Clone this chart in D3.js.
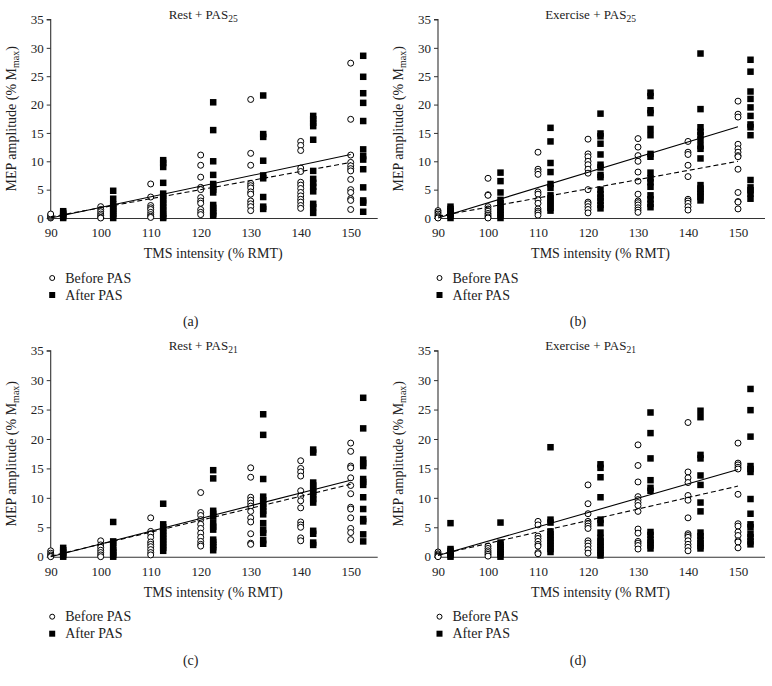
<!DOCTYPE html>
<html>
<head>
<meta charset="utf-8">
<script src="https://cdn.jsdelivr.net/npm/d3@7"></script>
<style>
  html, body { margin: 0; padding: 0; background: #fff; }
  svg text { font-family: "Liberation Serif", "DejaVu Serif", serif; fill: #222; }
</style>
</head>
<body>
<svg id="chart" width="772" height="686"></svg>
<script>
// ---------------- DATA ----------------
const levels = [90, 100, 110, 120, 130, 140, 150];
const xTicks = [90, 100, 110, 120, 130, 140, 150];
const yTicks = [0, 5, 10, 15, 20, 25, 30, 35];
const afterOffset = 2.5; // "After PAS" squares are shown 2.5 % RMT to the right

const panelTitles = ["Rest + PAS", "Exercise + PAS", "Rest + PAS", "Exercise + PAS"];
const panelSubs = ["25", "25", "21", "21"];
const panelLetters = ["(a)", "(b)", "(c)", "(d)"];

// (a) Rest + PAS25
const beforeA = [
  [0, 0.1, 0.3, 0.5, 0.7],
  [2.0, 1.5, 1.1, 0.7, 0.4, 0.1, 0],
  [6.0, 3.7, 2.2, 1.8, 1.5, 1.0, 0.6, 0.3, 0.1],
  [11.1, 9.3, 7.2, 5.4, 5.0, 3.6, 3.0, 2.6, 1.5, 1.0, 0.6],
  [20.9, 11.4, 9.3, 6.1, 5.7, 5.3, 4.6, 4.2, 3.0, 2.5, 2.0, 1.3],
  [13.5, 12.8, 11.9, 8.8, 8.2, 6.3, 5.8, 5.2, 4.5, 3.9, 3.3, 2.8, 2.2, 1.7],
  [27.3, 17.4, 11.1, 9.8, 9.2, 8.7, 8.3, 6.8, 5.0, 4.5, 3.4, 3.1, 1.5]
];
const afterA = [
  [1.2, 0.9, 0.6, 0.3, 0],
  [4.8, 3.4, 2.4, 2.0, 1.6, 1.2, 0.8, 0.4, 0],
  [10.2, 9.7, 9.0, 6.2, 4.3, 3.8, 3.2, 2.6, 2.0, 1.4, 0.8, 0.3, 0],
  [20.4, 15.5, 10.0, 7.6, 6.0, 5.5, 5.0, 4.5, 2.3, 1.8, 1.2, 0.8, 0.4],
  [21.6, 14.8, 14.3, 10.1, 7.5, 7.0, 3.7, 2.0, 1.6],
  [18.0, 17.4, 16.8, 16.2, 13.8, 8.3, 6.9, 6.2, 5.5, 4.7, 2.5, 1.9, 0.9],
  [28.6, 24.9, 22.0, 20.3, 17.1, 12.1, 10.9, 10.3, 8.6, 5.4, 3.1, 2.7, 1.1]
];
const trendAfterA = [0.0, 11.2];
const trendBeforeA = [0.2, 9.8];

// (b) Exercise + PAS25
const beforeB = [
  [1.3, 1.0, 0.7, 0.4, 0.2, 0],
  [7.0, 4.1, 4.0, 2.0, 1.6, 1.2, 0.8, 0.5, 0.2, 0],
  [11.6, 8.6, 8.2, 7.7, 4.6, 4.2, 3.2, 2.6, 1.6, 1.2, 0.9, 0.5],
  [13.9, 11.3, 10.8, 10.0, 9.4, 8.6, 7.9, 5.0, 2.8, 2.5, 2.0, 1.5, 0.9],
  [14.0, 12.5, 11.0, 10.0, 8.1, 6.5, 4.2, 3.0, 2.7, 2.3, 1.8, 1.4, 1.0],
  [13.5, 11.6, 11.2, 9.3, 7.3, 3.3, 3.0, 2.6, 2.0, 1.4],
  [20.6, 18.3, 17.8, 13.0, 12.2, 11.6, 11.0, 10.8, 8.6, 4.5, 2.9, 2.8, 1.6]
];
const afterB = [
  [2.0, 1.6, 1.2, 0.8, 0.4, 0],
  [8.0, 6.5, 4.5, 3.2, 2.6, 2.0, 1.5, 1.0, 0.5, 0],
  [15.9, 13.5, 9.7, 8.1, 6.0, 5.3, 4.0, 3.5, 2.9, 2.4, 1.8, 1.3],
  [18.4, 14.9, 14.4, 13.1, 11.2, 9.4, 8.9, 7.6, 7.2, 5.0, 4.2, 3.6, 3.0, 2.3, 1.7],
  [22.1, 21.5, 19.0, 18.5, 15.7, 14.6, 11.3, 10.8, 8.0, 7.0, 6.3, 5.5, 4.0, 3.3, 2.5, 1.9],
  [29.0, 19.2, 16.0, 15.2, 14.6, 13.8, 12.7, 12.2, 10.5, 5.8, 5.2, 4.7, 4.2, 3.7, 3.1],
  [27.9, 25.8, 22.3, 21.0, 19.5, 18.0, 16.5, 16.0, 14.6, 6.7, 5.4, 4.9, 4.3, 3.4]
];
const trendAfterB = [0.0, 16.1];
const trendBeforeB = [0.3, 10.0];

// (c) Rest + PAS21
const beforeC = [
  [1.0, 0.6, 0.3, 0.1, 0],
  [2.7, 2.0, 1.6, 1.1, 0.7, 0.3, 0],
  [6.6, 4.3, 3.9, 3.3, 2.5, 2.1, 1.7, 1.2, 0.7, 0.3],
  [10.9, 7.5, 7.0, 6.3, 5.5, 4.8, 4.0, 3.3, 2.6, 2.1, 1.8],
  [15.1, 13.5, 10.1, 9.6, 9.1, 8.6, 7.7, 6.6, 5.9, 3.9, 2.3, 2.1],
  [16.3, 15.0, 14.4, 13.7, 11.2, 10.3, 9.5, 8.3, 5.9, 5.4, 5.0, 3.2, 2.7],
  [19.3, 17.9, 15.4, 15.1, 13.4, 12.1, 10.7, 8.4, 8.1, 6.6, 4.8, 4.1, 2.9]
];
const afterC = [
  [1.5, 1.1, 0.7, 0.3, 0],
  [5.9, 2.6, 2.3, 1.5, 1.1, 0.7, 0.3, 0],
  [9.0, 5.5, 5.0, 4.5, 4.0, 3.5, 3.0, 2.5, 2.0, 1.5, 1.0],
  [14.7, 13.3, 7.8, 7.3, 6.8, 5.7, 5.1, 4.6, 2.9, 2.5, 2.0, 1.6, 1.1],
  [24.2, 20.7, 13.2, 10.2, 9.6, 9.0, 8.4, 7.8, 7.2, 5.7, 4.6, 4.0, 2.8, 2.2],
  [18.2, 17.7, 12.6, 12.1, 11.5, 11.0, 10.4, 9.8, 9.2, 4.4, 3.9, 2.4, 2.0],
  [27.0, 21.8, 16.5, 15.9, 15.4, 13.2, 12.7, 12.2, 10.1, 8.1, 6.4, 6.0, 3.8, 2.6]
];
const trendAfterC = [0.0, 13.0];
const trendBeforeC = [0.1, 12.3];

// (d) Exercise + PAS21
const beforeD = [
  [0.8, 0.5, 0.3, 0.1, 0],
  [1.8, 1.4, 1.0, 0.7, 0.4, 0.1],
  [6.0, 5.4, 3.5, 3.1, 2.6, 2.1, 1.8, 0.7, 0.5],
  [12.2, 9.0, 7.3, 6.0, 5.6, 5.2, 4.8, 2.7, 2.3, 1.8, 1.2, 0.6],
  [19.0, 15.5, 12.7, 10.2, 9.7, 9.2, 8.7, 7.7, 4.7, 4.0, 2.6, 2.3, 1.9, 1.3],
  [22.8, 14.4, 13.4, 12.6, 10.4, 9.6, 6.6, 3.9, 3.6, 3.3, 2.7, 2.1, 1.6, 1.0],
  [19.3, 15.9, 15.6, 15.2, 14.9, 10.6, 5.6, 5.2, 4.2, 3.6, 2.7, 2.5, 1.5]
];
const afterD = [
  [5.7, 1.3, 1.0, 0.6, 0.3, 0],
  [5.8, 2.4, 2.0, 1.6, 1.2, 0.8, 0.4, 0],
  [18.6, 6.3, 5.8, 4.3, 3.8, 3.3, 2.8, 2.3, 1.8, 1.3, 0.8],
  [15.7, 15.1, 13.5, 10.1, 6.3, 5.7, 4.1, 3.2, 2.6, 2.1, 1.6, 1.1, 0.6, 0.2],
  [24.5, 21.0, 16.7, 13.0, 11.7, 11.2, 4.2, 3.7, 2.9, 2.4, 1.9, 1.4],
  [24.8, 23.7, 17.3, 16.7, 13.8, 12.2, 9.2, 7.7, 4.1, 3.5, 2.9, 2.3, 1.8, 1.4],
  [28.5, 24.9, 20.4, 15.4, 14.9, 14.4, 9.8, 7.3, 5.5, 5.0, 3.9, 3.3, 2.6, 2.1]
];
const trendAfterD = [0.2, 14.8];
const trendBeforeD = [0.3, 12.0];

// ---------------- LAYOUT ----------------
const panels = [
  { before: beforeA, after: afterA, tA: trendAfterA, tB: trendBeforeA, x0: 50.7, y0: 218, y1: 19.5 },
  { before: beforeB, after: afterB, tA: trendAfterB, tB: trendBeforeB, x0: 438,  y0: 218, y1: 19.5 },
  { before: beforeC, after: afterC, tA: trendAfterC, tB: trendBeforeC, x0: 50.7, y0: 556.7, y1: 350.7 },
  { before: beforeD, after: afterD, tA: trendAfterD, tB: trendBeforeD, x0: 438,  y0: 556.7, y1: 350.7 }
];
const xDomain = [90, 155.3];
const svg = d3.select("#chart");
const ink = "#1a1a1a";

panels.forEach((p, i) => {
  const pxPerUnit = 5.0;
  const x = d3.scaleLinear().domain(xDomain).range([p.x0, p.x0 + (xDomain[1] - xDomain[0]) * pxPerUnit]);
  const y = d3.scaleLinear().domain([0, 35]).range([p.y0, p.y1]);
  const g = svg.append("g");

  // axes
  const yAxis = g.append("g").attr("transform", `translate(${p.x0},0)`)
    .call(d3.axisLeft(y).tickValues(yTicks).tickSize(4).tickPadding(3));
  const xAxis = g.append("g").attr("transform", `translate(0,${p.y0})`)
    .call(d3.axisBottom(x).tickValues(xTicks).tickSize(0).tickPadding(10));
  [yAxis, xAxis].forEach(a => {
    a.attr("font-family", null);
    a.select(".domain").attr("stroke", "#333").attr("stroke-width", 1.1);
    a.selectAll(".tick line").attr("stroke", "#333");
    a.selectAll("text").attr("font-size", 13).attr("fill", ink)
      .style("font-family", '"Liberation Serif", serif');
  });
  yAxis.select(".domain").attr("d", `M-4,${y(35)}H0V${y(0)}`);

  // points: before (open circles), after (filled squares)
  const beforePts = [], afterPts = [];
  levels.forEach((lv, k) => {
    p.before[k].forEach(v => beforePts.push([lv, v]));
    p.after[k].forEach(v => afterPts.push([lv + afterOffset, v]));
  });
  const sq = 6.5;
  g.append("g").selectAll("rect").data(afterPts).join("rect")
    .attr("x", d => x(d[0]) - sq / 2).attr("y", d => y(d[1]) - sq / 2)
    .attr("width", sq).attr("height", sq).attr("fill", "#000");
  g.append("g").selectAll("circle").data(beforePts).join("circle")
    .attr("cx", d => x(d[0])).attr("cy", d => y(d[1])).attr("r", 3)
    .attr("fill", "#fff").attr("stroke", "#000").attr("stroke-width", 1);

  // trend lines
  const line = d3.line().x(d => x(d[0])).y(d => y(d[1]));
  g.append("path").datum([[90, p.tA[0]], [150, p.tA[1]]]).attr("d", line)
    .attr("fill", "none").attr("stroke", "#000").attr("stroke-width", 1.1);
  g.append("path").datum([[90, p.tB[0]], [150, p.tB[1]]]).attr("d", line)
    .attr("fill", "none").attr("stroke", "#000").attr("stroke-width", 1.1)
    .attr("stroke-dasharray", "5,3");

  // title
  const title = g.append("text").attr("x", x(120.5)).attr("y", p.y1 - 1)
    .attr("text-anchor", "middle").attr("font-size", 13);
  title.append("tspan").text(panelTitles[i]);
  title.append("tspan").attr("font-size", 9.5).attr("dy", 3).text(panelSubs[i]);

  // y label
  const yl = g.append("text")
    .attr("transform", `translate(${p.x0 - 35},${(p.y0 + p.y1) / 2}) rotate(-90)`)
    .attr("text-anchor", "middle").attr("font-size", 14);
  yl.append("tspan").text("MEP amplitude (% M");
  yl.append("tspan").attr("font-size", 10).attr("dy", 3).text("max");
  yl.append("tspan").attr("dy", -3).text(")");

  // x label
  g.append("text").attr("x", x(122.5)).attr("y", p.y0 + 40)
    .attr("text-anchor", "middle").attr("font-size", 14).text("TMS intensity (% RMT)");

  // legend
  const lx = p.x0 + 1.5, ly = p.y0 + 60;
  g.append("circle").attr("cx", lx).attr("cy", ly).attr("r", 2.5)
    .attr("fill", "#fff").attr("stroke", "#000").attr("stroke-width", 1);
  g.append("text").attr("x", lx + 13).attr("y", ly + 4.5).attr("font-size", 14).text("Before PAS");
  g.append("rect").attr("x", lx - 3).attr("y", ly + 17 - 3).attr("width", 6).attr("height", 6).attr("fill", "#000");
  g.append("text").attr("x", lx + 13).attr("y", ly + 17 + 4.5).attr("font-size", 14).text("After PAS");

  // panel letter
  g.append("text").attr("x", x(118)).attr("y", p.y0 + 108)
    .attr("text-anchor", "middle").attr("font-size", 14).text(panelLetters[i]);
});
</script>
</body>
</html>
